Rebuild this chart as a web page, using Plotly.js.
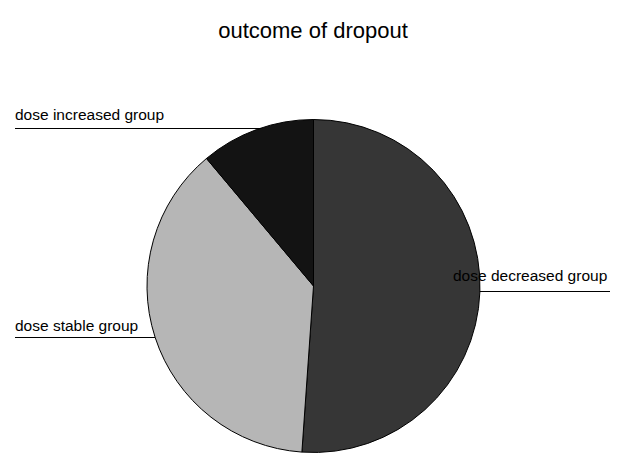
<!DOCTYPE html>
<html>
<head>
<meta charset="utf-8">
<script src="https://cdn.plot.ly/plotly-3.0.1.min.js"></script>
<style>html,body{margin:0;padding:0;background:#fff;}#chart{width:626px;height:458px;}</style>
</head>
<body>
<div id="chart"></div>
<script>
// Dropout outcome counts per dose group
const groups = ['dose decreased group', 'dose stable group', 'dose increased group'];
const counts = [23, 17, 5];
const sliceColors = ['#363636', '#b6b6b6', '#131313'];

const W = 626, H = 458;
const px = x => x / W;
const py = y => 1 - y / H;

// Label placement: text anchor and leader-line extent (pixels)
const labelPos = [
  {tx: 451, ty: 275, lx0: 440, lx1: 610, ly: 291.5},
  {tx: 13, ty: 325, lx0: 15, lx1: 220, ly: 337.5},
  {tx: 13, ty: 115, lx0: 15, lx1: 300, ly: 128.5}
];

const trace = {
  type: 'pie',
  labels: groups,
  values: counts,
  sort: false,
  direction: 'clockwise',
  rotation: 0,
  textinfo: 'none',
  hoverinfo: 'label+value',
  marker: {colors: sliceColors, line: {color: '#000', width: 1}},
  domain: {x: [px(147), px(480)], y: [py(452.5), py(119.5)]},
  showlegend: false
};

const shapes = labelPos.map(p => ({
  type: 'line', xref: 'paper', yref: 'paper', layer: 'below',
  x0: px(p.lx0), x1: px(p.lx1), y0: py(p.ly), y1: py(p.ly),
  line: {color: '#000', width: 1}
}));

const annotations = groups.map((g, i) => ({
  text: g, xref: 'paper', yref: 'paper',
  x: px(labelPos[i].tx), y: py(labelPos[i].ty),
  xanchor: 'left', yanchor: 'middle', showarrow: false,
  font: {family: 'Liberation Sans, Arial, sans-serif', size: 15.5, color: '#000'}
}));

const layout = {
  width: W, height: H,
  margin: {l: 0, r: 0, t: 0, b: 0},
  paper_bgcolor: '#fff',
  title: {
    text: 'outcome of dropout',
    x: 0.5, xanchor: 'center', y: py(30), yanchor: 'middle',
    font: {family: 'Liberation Sans, Arial, sans-serif', size: 22, color: '#000'}
  },
  shapes: shapes,
  annotations: annotations
};

Plotly.newPlot('chart', [trace], layout, {displayModeBar: false, staticPlot: true});
</script>
</body>
</html>
